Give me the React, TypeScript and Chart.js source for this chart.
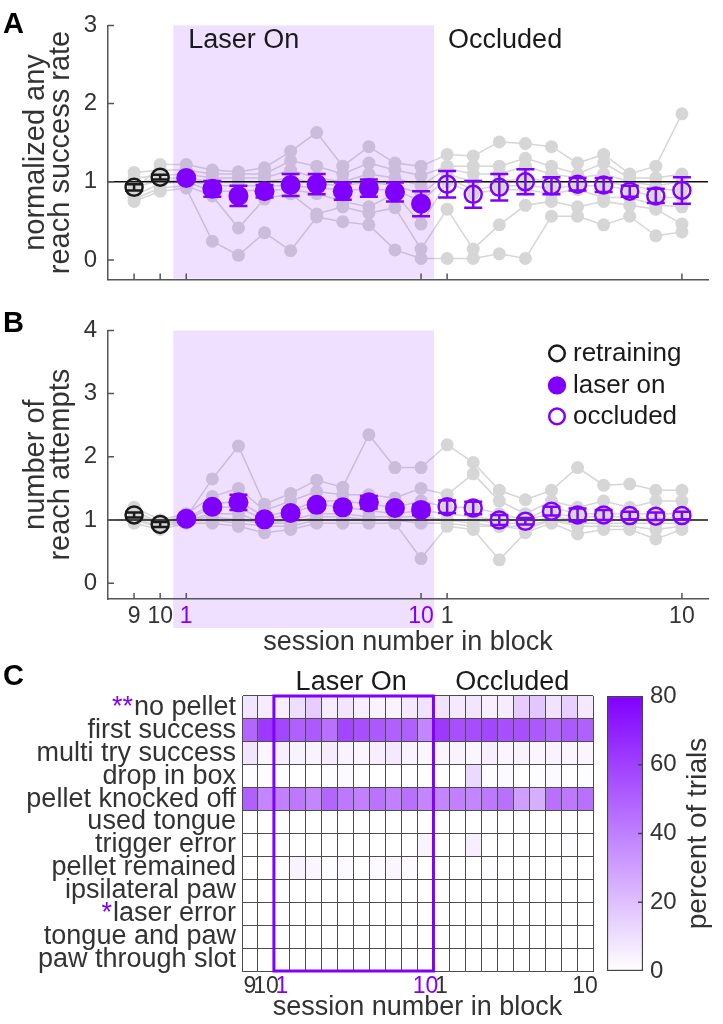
import React, { useEffect, useRef } from 'react';
import { Chart, registerables } from 'chart.js';

Chart.register(...registerables);

const FONT = '"Liberation Sans", Arial, Helvetica, sans-serif';
const PURPLE = '#8000ff';
const GRAY = '#d6d6d6';
const AXIS = '#555555';
const TEXT = '#333333';
const GRID = '#4d4d4d';
const SHADE_ALPHA = 'rgba(128, 0, 255, 0.12)';
const SHADE_SOLID = '#f0e0ff';
const ROW_FONT = 27;

// ---------------- data ----------------
const sessionLabels = ['9', '10', '1', '2', '3', '4', '5', '6', '7', '8', '9', '10', '1', '2', '3', '4', '5', '6', '7', '8', '9', '10'];
const sessionPhase = [
  'retraining', 'retraining',
  'laser', 'laser', 'laser', 'laser', 'laser', 'laser', 'laser', 'laser', 'laser', 'laser',
  'occluded', 'occluded', 'occluded', 'occluded', 'occluded', 'occluded', 'occluded', 'occluded', 'occluded', 'occluded',
];
const labelledSessions = [0, 1, 2, 11, 12, 21];

// Panel A: normalized any reach success rate
const meanSuccess = [0.93, 1.06, 1.05, 0.91, 0.82, 0.88, 0.96, 0.97, 0.88, 0.92, 0.87, 0.72, 0.97, 0.84, 0.93, 1.0, 0.95, 0.97, 0.96, 0.88, 0.82, 0.89];
const semSuccess = [0.04, 0.03, 0.03, 0.1, 0.13, 0.08, 0.14, 0.13, 0.11, 0.11, 0.12, 0.16, 0.17, 0.17, 0.17, 0.16, 0.11, 0.08, 0.09, 0.07, 0.09, 0.17];
const miceSuccess = [
  [0.88, 1.22, 1.22, 1.15, 1.13, 1.18, 1.39, 1.63, 1.2, 1.45, 1.24, 1.2, 1.35, 1.33, 1.51, 1.49, 1.45, 1.24, 1.35, 1.1, 1.2, 1.87],
  [1.12, 1.15, 1.15, 1.1, 1.1, 1.1, 1.27, 1.2, 1.1, 1.24, 1.15, 1.08, 1.2, 1.2, 1.2, 1.3, 1.2, 1.1, 1.24, 1.05, 1.05, 1.1],
  [1.05, 1.08, 1.1, 1.05, 1.05, 1.05, 1.15, 1.05, 1.0, 1.1, 1.05, 0.95, 1.17, 1.1, 1.1, 1.2, 1.1, 1.05, 1.1, 1.0, 0.95, 1.0],
  [0.98, 1.05, 1.05, 1.0, 1.0, 1.0, 1.05, 0.98, 0.95, 1.0, 0.95, 0.85, 1.1, 1.0, 1.0, 1.05, 1.0, 1.0, 1.0, 0.95, 0.9, 0.9],
  [0.93, 1.02, 1.02, 0.95, 0.95, 0.95, 0.95, 0.92, 0.9, 0.9, 0.9, 0.75, 1.05, 0.9, 0.95, 0.95, 0.92, 0.95, 0.95, 0.9, 0.8, 0.8],
  [0.82, 0.98, 1.0, 0.88, 0.88, 0.9, 0.9, 0.85, 0.75, 0.68, 0.85, 0.46, 1.0, 0.85, 0.9, 0.9, 0.85, 0.9, 0.8, 0.8, 0.7, 0.68],
  [0.78, 0.92, 0.95, 0.82, 0.41, 0.78, 0.85, 0.59, 0.68, 0.6, 0.67, 0.14, 0.65, 0.14, 0.45, 0.7, 0.75, 0.68, 0.75, 0.7, 0.65, 0.46],
  [0.75, 0.88, 0.92, 0.24, 0.06, 0.35, 0.12, 0.55, 0.49, 0.45, 0.13, 0.02, 0.02, 0.02, 0.08, 0.02, 0.56, 0.56, 0.45, 0.56, 0.31, 0.36],
];

// Panel B: number of reach attempts
const meanAttempts = [1.08, 0.93, 1.02, 1.21, 1.28, 1.01, 1.11, 1.24, 1.2, 1.28, 1.19, 1.16, 1.21, 1.19, 1.0, 0.98, 1.14, 1.08, 1.08, 1.07, 1.06, 1.07];
const semAttempts = [0.04, 0.04, 0.03, 0.04, 0.12, 0.04, 0.05, 0.05, 0.05, 0.1, 0.05, 0.08, 0.1, 0.1, 0.08, 0.05, 0.07, 0.1, 0.08, 0.06, 0.06, 0.06];
const miceAttempts = [
  [1.05, 0.98, 1.05, 1.65, 2.17, 1.25, 1.42, 1.63, 1.52, 2.35, 1.83, 1.83, 2.19, 1.91, 1.47, 1.32, 1.47, 1.83, 1.55, 1.57, 1.47, 1.47],
  [1.2, 1.0, 1.1, 1.37, 1.5, 1.15, 1.3, 1.45, 1.4, 1.4, 1.35, 1.5, 1.4, 1.73, 1.3, 1.1, 1.3, 1.2, 1.3, 1.2, 1.3, 1.3],
  [1.15, 0.95, 1.02, 1.25, 1.3, 1.05, 1.15, 1.3, 1.3, 1.25, 1.2, 1.3, 1.2, 1.2, 1.1, 1.0, 1.2, 1.1, 1.1, 1.1, 1.1, 1.1],
  [1.1, 0.93, 1.0, 1.2, 1.2, 1.0, 1.1, 1.25, 1.2, 1.15, 1.1, 1.15, 1.1, 1.05, 1.0, 1.0, 1.1, 1.05, 1.05, 1.05, 1.0, 1.05],
  [1.08, 0.92, 1.0, 1.1, 1.1, 0.95, 1.0, 1.1, 1.1, 1.05, 1.05, 1.05, 1.0, 1.0, 0.95, 0.95, 1.05, 1.0, 1.0, 1.0, 1.0, 1.0],
  [1.02, 0.9, 1.0, 1.05, 1.0, 0.95, 0.95, 1.05, 1.05, 1.0, 1.0, 1.0, 1.0, 0.95, 0.9, 0.9, 1.0, 0.95, 0.95, 0.95, 0.95, 0.95],
  [1.0, 0.88, 0.98, 1.0, 0.95, 0.9, 0.9, 1.0, 1.0, 1.0, 1.0, 0.95, 0.95, 0.9, 0.9, 0.85, 1.0, 0.9, 0.9, 0.9, 0.85, 0.9],
  [0.95, 0.85, 0.95, 0.95, 0.9, 0.8, 0.85, 0.95, 0.95, 0.95, 0.95, 0.39, 0.9, 0.85, 0.37, 0.8, 0.95, 0.78, 0.85, 0.85, 0.7, 0.85],
];
const yTicksSuccess = [0, 1, 2, 3];
const yTicksAttempts = [0, 1, 2, 3, 4];

// Panel C: percent of trials per outcome
const outcomeNames = [
  'no pellet', 'first success', 'multi try success', 'drop in box', 'pellet knocked off', 'used tongue',
  'trigger error', 'pellet remained', 'ipsilateral paw', 'laser error', 'tongue and paw', 'paw through slot',
];
const outcomeMarks = ['**', '', '', '', '', '', '', '', '', '*', '', ''];
const heatValues = [
  [8, 6, 5, 10, 16, 6, 8, 5, 4, 4, 7, 9, 9, 7, 8, 5, 6, 16, 18, 9, 15, 7],
  [48, 62, 58, 50, 52, 45, 58, 55, 52, 50, 50, 38, 62, 55, 56, 58, 55, 55, 52, 48, 52, 50],
  [8, 3, 5, 4, 4, 6, 4, 3, 5, 7, 4, 3, 3, 4, 3, 5, 3, 4, 3, 4, 3, 3],
  [1, 1, 0, 0, 0, 1, 2, 0, 0, 0, 0, 0, 0, 0, 12, 1, 2, 0, 1, 2, 0, 1],
  [50, 38, 40, 42, 38, 48, 42, 40, 44, 40, 45, 38, 38, 40, 38, 42, 45, 30, 25, 45, 42, 45],
  [0, 0, 0, 0, 0, 0, 0, 0, 0, 0, 0, 0, 0, 0, 0, 0, 0, 0, 0, 0, 0, 0],
  [0, 0, 0, 0, 0, 0, 0, 0, 0, 0, 0, 4, 0, 0, 5, 0, 0, 0, 0, 0, 1, 0],
  [0, 0, 1, 4, 3, 1, 2, 0, 2, 3, 2, 0, 0, 0, 0, 1, 0, 0, 0, 0, 0, 0],
  [0, 0, 0, 0, 0, 0, 0, 0, 0, 0, 0, 0, 0, 0, 0, 0, 0, 0, 0, 0, 0, 0],
  [0, 0, 0, 0, 0, 0, 0, 0, 0, 0, 0, 1, 0, 0, 0, 0, 0, 0, 0, 0, 0, 0],
  [0, 0, 0, 0, 0, 0, 0, 0, 0, 0, 0, 0, 0, 0, 0, 0, 0, 0, 0, 0, 0, 0],
  [0, 0, 0, 0, 0, 0, 0, 0, 0, 0, 0, 0, 0, 0, 0, 0, 0, 0, 0, 0, 0, 0],
];
const colorbarRange = [0, 80];
const colorbarTicks = [0, 20, 40, 60, 80];

// ---------------- helpers ----------------
const X_MIN = -1;
const X_MAX = 22;
const Y_MIN = -0.25;
const laserFirst = sessionPhase.indexOf('laser');
const laserLast = sessionPhase.lastIndexOf('laser');
const shadeFrom = laserFirst - 0.5;
const shadeTo = laserLast + 0.5;

function cellColor(v: number) {
  const t = Math.max(0, Math.min(1, v / colorbarRange[1]));
  const r = Math.round(255 + (128 - 255) * t);
  const g = Math.round(255 * (1 - t));
  return `rgb(${r},${g},255)`;
}

function tickColor(c: any) {
  if (!c || !c.tick) return TEXT;
  const i = Math.round(c.tick.value);
  return sessionPhase[i] === 'laser' ? PURPLE : TEXT;
}

function drawCircle(ctx: any, x: number, y: number, r: number, fill: string | null, stroke: string | null, lw: number) {
  ctx.beginPath();
  ctx.arc(x, y, r, 0, Math.PI * 2);
  if (fill) { ctx.fillStyle = fill; ctx.fill(); }
  if (stroke) { ctx.strokeStyle = stroke; ctx.lineWidth = lw; ctx.stroke(); }
}

function makeLinePlugin(cfg: any) {
  return {
    id: 'linePanel',
    beforeDraw(chart: any) {
      if (cfg.shadeBelowTo == null) return;
      const { ctx, chartArea, scales } = chart;
      const x0 = scales.x.getPixelForValue(shadeFrom);
      const x1 = scales.x.getPixelForValue(shadeTo);
      ctx.save();
      ctx.fillStyle = SHADE_SOLID;
      ctx.fillRect(x0, chartArea.bottom, x1 - x0, cfg.shadeBelowTo - chartArea.bottom);
      ctx.restore();
    },
    beforeDatasetDraw(chart: any, args: any) {
      const ds: any = chart.data.datasets[args.index];
      if (ds.role !== 'ref') return;
      const { ctx, chartArea, scales } = chart;
      const x0 = scales.x.getPixelForValue(shadeFrom);
      const x1 = scales.x.getPixelForValue(shadeTo);
      ctx.save();
      ctx.fillStyle = SHADE_ALPHA;
      ctx.fillRect(x0, chartArea.top, x1 - x0, chartArea.bottom - chartArea.top - 1);
      ctx.restore();
    },
    afterDatasetsDraw(chart: any) {
      const { ctx, chartArea, scales } = chart;
      const xs = scales.x;
      const ys = scales.y;
      ctx.save();
      // error bars
      cfg.mean.forEach((m: number, i: number) => {
        const px = xs.getPixelForValue(i);
        const lo = ys.getPixelForValue(m - cfg.sem[i]);
        const hi = ys.getPixelForValue(m + cfg.sem[i]);
        ctx.strokeStyle = sessionPhase[i] === 'retraining' ? '#1a1a1a' : PURPLE;
        ctx.lineWidth = 2.5;
        ctx.beginPath();
        ctx.moveTo(px, lo); ctx.lineTo(px, hi);
        ctx.moveTo(px - 9, lo); ctx.lineTo(px + 9, lo);
        ctx.moveTo(px - 9, hi); ctx.lineTo(px + 9, hi);
        ctx.stroke();
      });
      // inward ticks
      ctx.strokeStyle = AXIS;
      ctx.lineWidth = 1.5;
      ctx.beginPath();
      xs.ticks.forEach((t: any) => {
        const px = xs.getPixelForValue(t.value);
        ctx.moveTo(px, chartArea.bottom); ctx.lineTo(px, chartArea.bottom - 6);
      });
      ys.ticks.forEach((t: any) => {
        const py = ys.getPixelForValue(t.value);
        ctx.moveTo(chartArea.left, py); ctx.lineTo(chartArea.left + 6, py);
      });
      ctx.stroke();
      // phase texts
      if (cfg.phaseTexts) {
        ctx.fillStyle = '#1a1a1a';
        ctx.font = `27px ${FONT}`;
        ctx.textAlign = 'left';
        ctx.textBaseline = 'alphabetic';
        ctx.fillText('Laser On', xs.getPixelForValue(shadeFrom) + 15, chartArea.top + 23);
        ctx.fillText('Occluded', xs.getPixelForValue(shadeTo) + 14, chartArea.top + 23);
      }
      // legend
      if (cfg.legend) {
        const mx = chartArea.right - 151;
        const tx = chartArea.right - 135;
        const rows = [chartArea.top + 23, chartArea.top + 55, chartArea.top + 86];
        drawCircle(ctx, mx, rows[0], 7.8, null, '#1a1a1a', 2.5);
        drawCircle(ctx, mx, rows[1], 9.2, PURPLE, null, 0);
        drawCircle(ctx, mx, rows[2], 7.8, null, PURPLE, 2.5);
        ctx.fillStyle = '#1a1a1a';
        ctx.font = `26px ${FONT}`;
        ctx.textAlign = 'left';
        ctx.textBaseline = 'middle';
        ctx.fillText('retraining', tx, rows[0]);
        ctx.fillText('laser on', tx, rows[1]);
        ctx.fillText('occluded', tx, rows[2]);
      }
      // panel letter
      ctx.fillStyle = '#000';
      ctx.font = `bold 29px ${FONT}`;
      ctx.textAlign = 'left';
      ctx.textBaseline = 'alphabetic';
      ctx.fillText(cfg.letter, 3, cfg.letterBaseline);
      ctx.restore();
    },
  };
}

function makeLineChart(canvas: HTMLCanvasElement, cfg: any) {
  const datasets: any[] = [];
  cfg.mice.forEach((vals: number[]) => {
    datasets.push({
      data: vals.map((v, i) => ({ x: i, y: v })),
      showLine: true,
      borderColor: GRAY,
      borderWidth: 1.5,
      pointRadius: 6.5,
      pointBackgroundColor: GRAY,
      pointBorderWidth: 0,
      order: 3,
    });
  });
  datasets.push({
    role: 'ref',
    data: [{ x: X_MIN, y: 1 }, { x: X_MAX, y: 1 }],
    showLine: true,
    borderColor: '#111111',
    borderWidth: 1.5,
    pointRadius: 0,
    order: 2,
  });
  ['retraining', 'laser', 'occluded'].forEach((p) => {
    const pts: any[] = [];
    cfg.mean.forEach((m: number, i: number) => { if (sessionPhase[i] === p) pts.push({ x: i, y: m }); });
    datasets.push({
      data: pts,
      showLine: false,
      pointRadius: p === 'laser' ? 10 : 8.5,
      pointBackgroundColor: p === 'laser' ? PURPLE : 'rgba(0,0,0,0)',
      pointBorderColor: p === 'retraining' ? '#1a1a1a' : PURPLE,
      pointBorderWidth: p === 'laser' ? 0 : 2.5,
      order: 1,
    });
  });

  return new Chart(canvas, {
    type: 'scatter',
    data: { datasets },
    options: {
      responsive: false,
      animation: false,
      devicePixelRatio: 1,
      events: [],
      layout: { padding: { top: cfg.padTop, right: 15, left: 0, bottom: 0 } },
      plugins: { legend: { display: false }, tooltip: { enabled: false } },
      scales: {
        x: {
          type: 'linear',
          min: X_MIN,
          max: X_MAX,
          grid: { display: false, drawTicks: false },
          border: { display: true, color: AXIS, width: 1.5 },
          afterBuildTicks: (s: any) => { s.ticks = labelledSessions.map((v) => ({ value: v })); },
          ticks: {
            display: cfg.showXLabels,
            autoSkip: false,
            maxRotation: 0,
            minRotation: 0,
            padding: 4,
            font: { size: 23, family: FONT },
            color: tickColor,
            callback: (v: any) => sessionLabels[Math.round(v)],
          },
          title: {
            display: cfg.showXLabels,
            text: 'session number in block',
            font: { size: 27, family: FONT, lineHeight: 1 },
            color: TEXT,
            padding: { top: 0, bottom: 4 },
          },
          afterFit: (s: any) => { s.height = cfg.xHeight; },
        },
        y: {
          type: 'linear',
          min: Y_MIN,
          max: cfg.yMax,
          grid: { display: false, drawTicks: false },
          border: { display: true, color: AXIS, width: 1.5 },
          afterBuildTicks: (s: any) => { s.ticks = cfg.yTicks.map((v: number) => ({ value: v })); },
          ticks: { padding: 11, font: { size: 24, family: FONT }, color: TEXT },
          title: {
            display: true,
            text: cfg.yTitle,
            font: { size: 29, family: FONT, lineHeight: 0.86 },
            color: TEXT,
            padding: { top: 24, bottom: 0 },
          },
          afterFit: (s: any) => { s.width = 108; },
        },
      },
    } as any,
    plugins: [makeLinePlugin(cfg)],
  });
}

const heatPlugin = {
  id: 'heatDecor',
  afterDraw(chart: any) {
    const { ctx, chartArea, scales } = chart;
    const xs = scales.x;
    const ys = scales.y;
    ctx.save();
    // laser block outline
    const x0 = xs.getPixelForValue(laserFirst);
    const x1 = xs.getPixelForValue(laserLast + 1);
    ctx.strokeStyle = PURPLE;
    ctx.lineWidth = 3;
    ctx.strokeRect(x0, chartArea.top, x1 - x0, chartArea.bottom - chartArea.top);
    // block titles
    ctx.fillStyle = '#1a1a1a';
    ctx.font = `27px ${FONT}`;
    ctx.textAlign = 'left';
    ctx.textBaseline = 'alphabetic';
    ctx.fillText('Laser On', xs.getPixelForValue(3.36), chartArea.top - 6);
    ctx.fillText('Occluded', xs.getPixelForValue(13.36), chartArea.top - 6);
    // significance marks
    ctx.font = `${ROW_FONT}px ${FONT}`;
    ctx.textAlign = 'right';
    ctx.textBaseline = 'middle';
    ctx.fillStyle = PURPLE;
    outcomeMarks.forEach((m, i) => {
      if (!m) return;
      const w = ctx.measureText(outcomeNames[i]).width;
      const py = ys.getPixelForTick(i);
      ctx.fillText(m, chartArea.left - 6 - w - 1, py);
    });
    // letter
    ctx.fillStyle = '#000';
    ctx.font = `bold 29px ${FONT}`;
    ctx.textAlign = 'left';
    ctx.textBaseline = 'alphabetic';
    ctx.fillText('C', 3, 25);
    ctx.restore();
  },
};

function makeHeatChart(canvas: HTMLCanvasElement) {
  const datasets = sessionLabels.map((_, c) => ({
    data: outcomeNames.map(() => [c, c + 1]),
    backgroundColor: heatValues.map((row) => cellColor(row[c])),
    borderWidth: 0,
    barPercentage: 1,
    categoryPercentage: 1,
    grouped: false,
    xAxisID: 'x',
    yAxisID: 'y',
  }));
  return new Chart(canvas, {
    type: 'bar',
    data: { labels: outcomeNames, datasets },
    options: {
      indexAxis: 'y',
      responsive: false,
      animation: false,
      devicePixelRatio: 1,
      events: [],
      layout: { padding: { top: 36, right: 4, left: 0, bottom: 0 } },
      plugins: { legend: { display: false }, tooltip: { enabled: false } },
      scales: {
        y: {
          type: 'category',
          position: 'left',
          offset: true,
          grid: { offset: true, color: GRID, lineWidth: 1, drawTicks: false, z: 1 },
          border: { display: true, color: GRID, width: 1, z: 1 },
          ticks: { autoSkip: false, padding: 6, font: { size: ROW_FONT, family: FONT }, color: TEXT },
          afterFit: (s: any) => { s.width = 242; },
        },
        x: {
          type: 'linear',
          position: 'bottom',
          min: 0,
          max: sessionLabels.length,
          grid: { color: GRID, lineWidth: 1, drawTicks: false, z: 1 },
          border: { display: true, color: GRID, width: 1, z: 1 },
          ticks: { display: false, stepSize: 1 },
          afterFit: (s: any) => { s.height = 0; },
        },
        x2: {
          type: 'linear',
          position: 'bottom',
          min: 0,
          max: sessionLabels.length,
          grid: { display: false, drawTicks: false },
          border: { display: false },
          afterBuildTicks: (s: any) => { s.ticks = labelledSessions.map((v) => ({ value: v + 0.5 })); },
          ticks: {
            autoSkip: false,
            maxRotation: 0,
            minRotation: 0,
            padding: 2,
            font: { size: 23, family: FONT },
            color: (c: any) => (c && c.tick && sessionPhase[Math.round(c.tick.value - 0.5)] === 'laser' ? PURPLE : TEXT),
            callback: (v: any) => sessionLabels[Math.round(v - 0.5)],
          },
          title: {
            display: true,
            text: 'session number in block',
            font: { size: 27, family: FONT, lineHeight: 1 },
            color: TEXT,
            padding: { top: 0, bottom: 3 },
          },
          afterFit: (s: any) => { s.height = 53; },
        },
      },
    } as any,
    plugins: [heatPlugin],
  });
}

const colorbarPlugin = {
  id: 'cbDecor',
  afterDraw(chart: any) {
    const { ctx, chartArea, scales } = chart;
    const ys = scales.y;
    ctx.save();
    ctx.strokeStyle = '#444';
    ctx.lineWidth = 1.5;
    ctx.beginPath();
    colorbarTicks.forEach((v) => {
      if (v === colorbarRange[0] || v === colorbarRange[1]) return;
      const py = ys.getPixelForValue(v);
      ctx.moveTo(chartArea.right, py); ctx.lineTo(chartArea.right - 5, py);
    });
    ctx.stroke();
    ctx.translate(98, (chartArea.top + chartArea.bottom) / 2);
    ctx.rotate(-Math.PI / 2);
    ctx.fillStyle = TEXT;
    ctx.font = `28px ${FONT}`;
    ctx.textAlign = 'center';
    ctx.textBaseline = 'middle';
    ctx.fillText('percent of trials', 0, 0);
    ctx.restore();
  },
};

function makeColorbar(canvas: HTMLCanvasElement) {
  return new Chart(canvas, {
    type: 'bar',
    data: {
      labels: ['percent'],
      datasets: [{
        data: [[colorbarRange[0], colorbarRange[1]]],
        backgroundColor: (c: any) => {
          const ch = c.chart;
          const ys = ch.scales && ch.scales.y;
          if (!ch.chartArea || !ys) return PURPLE;
          const g = ch.ctx.createLinearGradient(0, ys.getPixelForValue(colorbarRange[0]), 0, ys.getPixelForValue(colorbarRange[1]));
          g.addColorStop(0, '#ffffff');
          g.addColorStop(1, PURPLE);
          return g;
        },
        borderColor: '#444444',
        borderWidth: 1.5,
        borderSkipped: false,
        barPercentage: 1,
        categoryPercentage: 1,
      }],
    },
    options: {
      responsive: false,
      animation: false,
      devicePixelRatio: 1,
      events: [],
      layout: { padding: { top: 36, left: 7, right: 0, bottom: 53 } },
      plugins: { legend: { display: false }, tooltip: { enabled: false } },
      scales: {
        x: { display: false },
        y: {
          position: 'right',
          min: colorbarRange[0],
          max: colorbarRange[1],
          grid: { display: false, drawTicks: false },
          border: { display: false },
          afterBuildTicks: (s: any) => { s.ticks = colorbarTicks.map((v) => ({ value: v })); },
          ticks: { padding: 7, font: { size: 24, family: FONT }, color: TEXT },
          afterFit: (s: any) => { s.width = 80; },
        },
      },
    } as any,
    plugins: [colorbarPlugin],
  });
}

export default function App() {
  const refA = useRef<HTMLCanvasElement>(null);
  const refB = useRef<HTMLCanvasElement>(null);
  const refC = useRef<HTMLCanvasElement>(null);
  const refCB = useRef<HTMLCanvasElement>(null);

  useEffect(() => {
    Chart.defaults.font.family = FONT;
    const charts: Chart[] = [];
    if (refA.current) {
      charts.push(makeLineChart(refA.current, {
        mice: miceSuccess, mean: meanSuccess, sem: semSuccess, yMax: 3, yTicks: yTicksSuccess,
        yTitle: ['normalized any', 'reach success rate'], showXLabels: false, xHeight: 6, padTop: 24,
        letter: 'A', letterBaseline: 33, phaseTexts: true, legend: false, shadeBelowTo: null,
      }));
    }
    if (refB.current) {
      charts.push(makeLineChart(refB.current, {
        mice: miceAttempts, mean: meanAttempts, sem: semAttempts, yMax: 4, yTicks: yTicksAttempts,
        yTitle: ['number of', 'reach attempts'], showXLabels: true, xHeight: 61, padTop: 18,
        letter: 'B', letterBaseline: 27, phaseTexts: false, legend: true, shadeBelowTo: 323,
      }));
    }
    if (refC.current) charts.push(makeHeatChart(refC.current));
    if (refCB.current) charts.push(makeColorbar(refCB.current));
    return () => charts.forEach((c) => c.destroy());
  }, []);

  const abs = (left: number, top: number, w: number, h: number): React.CSSProperties => ({
    position: 'absolute', left, top, width: w, height: h, display: 'block',
  });

  return (
    <div style={{ position: 'absolute', left: 0, top: 0, width: 723, height: 1024, background: '#ffffff' }}>
      <canvas ref={refA} width={723} height={305} style={abs(0, 0, 723, 305)} />
      <canvas ref={refB} width={723} height={355} style={abs(0, 305, 723, 355)} />
      <canvas ref={refC} width={600} height={364} style={abs(0, 660, 600, 364)} />
      <canvas ref={refCB} width={123} height={364} style={abs(600, 660, 123, 364)} />
    </div>
  );
}
